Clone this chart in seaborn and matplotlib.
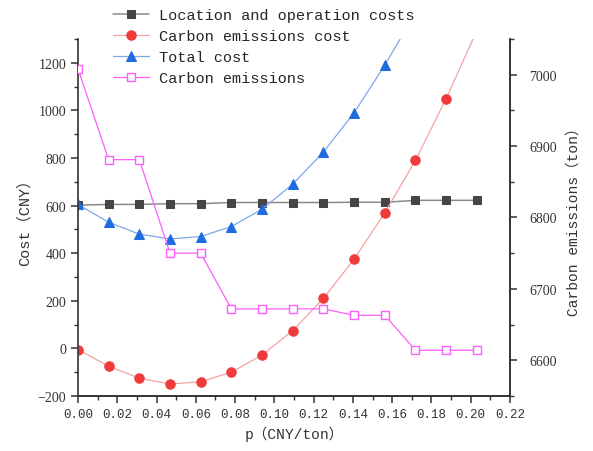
import numpy as np
import pandas as pd
import seaborn as sns
import matplotlib.pyplot as plt
from matplotlib.ticker import MultipleLocator

# values
p = [0.0, 0.015625, 0.03125, 0.046875, 0.0625, 0.078125, 0.09375,
     0.109375, 0.125, 0.140625, 0.15625, 0.171875, 0.1875, 0.203125]
location_cost = [602, 605, 605, 608, 608, 613, 613, 613, 613, 614, 614, 622, 622, 622]
emission_cost = [-5, -75, -125, -150, -140, -100, -28, 75, 210, 375, 570, 790, 1050, 1335]
total_cost = [605, 530, 480, 460, 470, 512, 585, 690, 825, 990, 1190, 1410, 1670, 1955]
emissions = [7008, 6881, 6881, 6750, 6750, 6672, 6672, 6672, 6672, 6663, 6663, 6614, 6614, 6614]

df = pd.DataFrame({'p': p, 'loc': location_cost, 'ec': emission_cost,
                   'tot': total_cost, 'em': emissions})

sns.set_style('ticks')
mono = ['Liberation Mono', 'Noto Sans CJK SC']
serif = ['Liberation Serif', 'Noto Sans CJK SC']
plt.rcParams['font.family'] = serif

fig = plt.figure(figsize=(5.93, 4.52), dpi=100)
ax = fig.add_axes([0.1315, 0.1217, 0.7285, 0.7898])
ax2 = ax.twinx()

sns.lineplot(data=df, x='p', y='loc', ax=ax, color='#8a8a8a', lw=1.1,
             marker='s', markersize=5.5, markerfacecolor='#454545',
             markeredgecolor='#454545', label='Location and operation costs')
sns.lineplot(data=df, x='p', y='ec', ax=ax, color='#f4a3a3', lw=0.9,
             marker='o', markersize=6.8, markerfacecolor='#ee3b3b',
             markeredgecolor='#ee3b3b', label='Carbon emissions cost')
sns.lineplot(data=df, x='p', y='tot', ax=ax, color='#7fa8e8', lw=0.9,
             marker='^', markersize=7, markerfacecolor='#1f6be0',
             markeredgecolor='#1f6be0', label='Total cost')
sns.lineplot(data=df, x='p', y='em', ax=ax2, color='#ff5cff', lw=0.9,
             marker='s', markersize=6, markerfacecolor='white',
             markeredgecolor='#ff5cff', markeredgewidth=1.0,
             label='Carbon emissions')

ax.set_xlim(0, 0.22)
ax.set_ylim(-200, 1300)
ax2.set_ylim(6550, 7050)
ax.xaxis.set_minor_locator(MultipleLocator(0.01))
ax.yaxis.set_major_locator(MultipleLocator(200))
ax.yaxis.set_minor_locator(MultipleLocator(100))
ax2.yaxis.set_major_locator(MultipleLocator(100))
ax2.yaxis.set_minor_locator(MultipleLocator(50))

xt = np.arange(0, 0.221, 0.02)
ax.set_xticks(xt)
ax.set_xticklabels(['%.2f' % v for v in xt], family=mono, fontsize=9)
for lab in ax.get_yticklabels() + ax2.get_yticklabels():
    lab.set_fontsize(10)

for a in (ax, ax2):
    a.spines['top'].set_visible(False)
    for s in a.spines.values():
        s.set_color('#333333')
        s.set_linewidth(1.2)
    a.tick_params(which='major', length=5, width=1.1, color='#333333', labelcolor='#333333')
    a.tick_params(which='minor', length=3, width=1.0, color='#333333')
ax2.spines['left'].set_visible(False)
ax2.tick_params(axis='y', which='major', pad=9)

ax.set_xlabel('p（CNY/ton）', family=mono, fontsize=10.5, color='#333333')
ax.set_ylabel('Cost（CNY）', family=mono, fontsize=11, color='#333333')
ax2.set_ylabel('Carbon emissions（ton）', family=mono, fontsize=10.5, color='#333333',
               labelpad=7)

h1, l1 = ax.get_legend_handles_labels()
h2, l2 = ax2.get_legend_handles_labels()
ax.get_legend().remove()
ax2.get_legend().remove()
fig.legend(h1 + h2, l1 + l2, loc='upper left', bbox_to_anchor=(0.172, 1.003),
           frameon=False, prop={'family': mono, 'size': 11},
           labelspacing=0.45, handlelength=2.4, handletextpad=0.6, borderpad=0.2)

fig.savefig('out.png', dpi=100)
